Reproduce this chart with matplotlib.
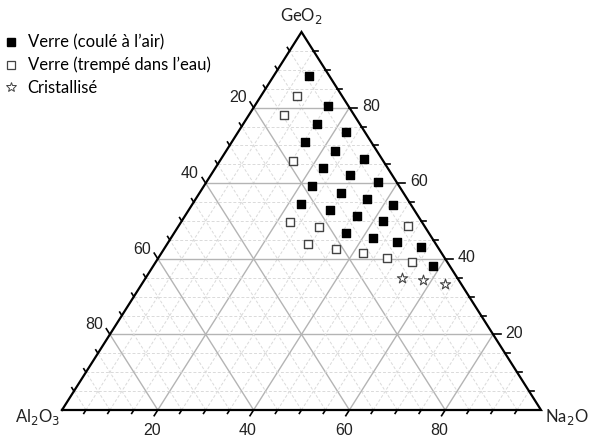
import matplotlib
matplotlib.use("Agg")
import matplotlib.pyplot as plt
from matplotlib.lines import Line2D
import numpy as np

# ---- data (mol %) ----
# Glass, air-cast (filled squares)
air_geo2 = [88.4, 80.4, 75.7, 73.5, 70.8, 68.6, 66.5, 63.9, 62.2, 60.3, 59.3, 57.5,
            55.7, 54.2, 54.5, 52.9, 51.3, 49.9, 46.9, 45.6, 44.4, 43.2, 38.1]
air_na2o = [7.4, 15.4, 15.3, 22.6, 15.3, 22.7, 29.7, 22.6, 29.1, 35.8, 22.5, 29.5,
            35.9, 42.1, 22.6, 29.4, 35.9, 42.1, 35.8, 42.2, 47.8, 53.4, 58.4]
# Glass, water-quenched (open squares)
wq_geo2 = [83.1, 78.0, 66.0, 49.7, 48.3, 43.8, 42.5, 41.5, 40.2, 39.2, 48.7]
wq_na2o = [7.6, 7.4, 15.3, 22.7, 29.5, 29.5, 35.9, 42.1, 47.8, 53.4, 47.9]
# Crystallised (stars)
cr_geo2 = [35.0, 34.4, 33.3]
cr_na2o = [53.4, 58.2, 63.4]

labels = ["Verre (coulé à l\u2019air)", "Verre (trempé dans l\u2019eau)", "Cristallisé"]
tick_values = [20, 40, 60, 80]


def tern(na, geo):
    """Na2O, GeO2 -> cartesian (Al2O3 implicit)."""
    na = np.asarray(na, float)
    geo = np.asarray(geo, float)
    return na + geo / 2.0, geo


fig = plt.figure(figsize=(5.92, 4.38), dpi=100)
ax = fig.add_axes([62 / 592, 28 / 438, 479 / 592, 378 / 438])
ax.set_xlim(0, 100)
ax.set_ylim(0, 100)
ax.axis("off")

# ---- grid ----
for v in range(5, 100, 5):
    major = (v % 20 == 0)
    kw = dict(color="#b4b4b4", lw=1.0, ls="-") if major else \
        dict(color="#dadada", lw=0.7, ls=(0, (3, 2)))
    x, y = tern([0, 100 - v], [v, v]); ax.plot(x, y, zorder=1, **kw)          # GeO2 = v
    x, y = tern([v, v], [0, 100 - v]); ax.plot(x, y, zorder=1, **kw)          # Na2O = v
    x, y = tern([100 - v, 0], [0, 100 - v]); ax.plot(x, y, zorder=1, **kw)    # Al2O3 = v

# ---- triangle ----
x, y = tern([0, 100, 0, 0], [0, 0, 100, 0])
ax.plot(x, y, color="black", lw=1.6, zorder=3, solid_joinstyle="miter", clip_on=False)

# ---- ticks ----
for v in range(5, 100, 5):
    L = 1.5 if v % 20 == 0 else 0.9
    x, y = tern([v, v], [0, -L])                       # bottom (Na2O)
    ax.plot(x, y, color="black", lw=1.2, clip_on=False, zorder=3)
    x, y = tern([100 - v, 100 - v + L * 1.1], [v, v])  # right (GeO2)
    ax.plot(x, y, color="black", lw=1.2, clip_on=False, zorder=3)
    x, y = tern([0, -L], [100 - v, 100 - v + L])       # left (Al2O3)
    ax.plot(x, y, color="black", lw=1.2, clip_on=False, zorder=3)

tfont = dict(family="Liberation Sans", fontsize=11.5, color="#222222")
for v in tick_values:
    x, y = tern(v, 0)
    ax.annotate(str(v), (x, y), xytext=(-4, -15), textcoords="offset points",
                ha="center", va="center", **tfont)
    x, y = tern(100 - v, v)
    ax.annotate(str(v), (x, y), xytext=(9, 1), textcoords="offset points",
                ha="left", va="center", **tfont)
    x, y = tern(0, 100 - v)
    ax.annotate(str(v), (x, y), xytext=(-5, 7), textcoords="offset points",
                ha="right", va="center", **tfont)

# ---- vertex labels ----
vfont = dict(family="Lato", fontsize=12, color="#222222")
fig.text(301 / 592, 1 - 16 / 438, "GeO$_2$", ha="center", va="center", **vfont)
fig.text(38 / 592, 1 - 417 / 438, "Al$_2$O$_3$", ha="center", va="center", **vfont)
fig.text(545 / 592, 1 - 417 / 438, "Na$_2$O", ha="left", va="center", **vfont)

# ---- data ----
x, y = tern(air_na2o, air_geo2)
ax.scatter(x, y, marker="s", s=28, c="black", zorder=5)
x, y = tern(wq_na2o, wq_geo2)
ax.scatter(x, y, marker="s", s=28, facecolors="white", edgecolors="#444444", linewidths=1.0, zorder=5)
x, y = tern(cr_na2o, cr_geo2)
ax.scatter(x, y, marker="*", s=60, facecolors="white", edgecolors="#444444", linewidths=0.8, zorder=5)

# ---- legend ----
handles = [
    Line2D([], [], marker="s", ls="none", color="black", markersize=5.5),
    Line2D([], [], marker="s", ls="none", markerfacecolor="white", markeredgecolor="#444444",
           markersize=5.5, markeredgewidth=0.9),
    Line2D([], [], marker="*", ls="none", markerfacecolor="white", markeredgecolor="#444444",
           markersize=7, markeredgewidth=0.7),
]
fig.legend(handles, labels, loc="upper left", bbox_to_anchor=(0.003, 1 - 31 / 438),
           frameon=False, prop=dict(family="Lato", size=12), handlelength=0.7,
           handletextpad=0.65, labelspacing=0.38, borderaxespad=0.0, borderpad=0.2)

fig.savefig("out.png", dpi=100)
